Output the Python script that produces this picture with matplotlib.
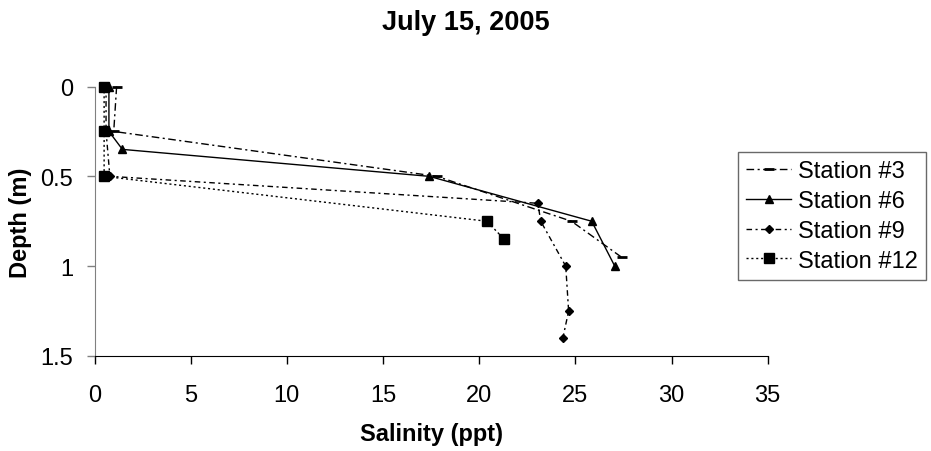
import matplotlib
matplotlib.use("Agg")
import matplotlib.pyplot as plt
from matplotlib.ticker import FixedLocator, FuncFormatter

plt.rcParams['font.family'] = ['Liberation Sans', 'DejaVu Sans']

# salinity (ppt) vs depth (m) per station
st3_sal = [1.15, 1.0, 17.8, 24.8, 27.4]
st3_depth = [0, 0.25, 0.5, 0.75, 0.95]

st6_sal = [0.75, 0.75, 1.45, 17.4, 25.85, 27.05]
st6_depth = [0, 0.25, 0.35, 0.5, 0.75, 1.0]

st9_sal = [0.6, 0.6, 0.8, 23.05, 23.2, 24.5, 24.65, 24.35]
st9_depth = [0, 0.25, 0.5, 0.65, 0.75, 1.0, 1.25, 1.4]

st12_sal = [0.5, 0.5, 0.5, 20.4, 21.3]
st12_depth = [0, 0.25, 0.5, 0.75, 0.85]

x_ticks = [0, 5, 10, 15, 20, 25, 30, 35]
y_ticks = [0, 0.5, 1, 1.5]

W, H = 931, 452
fig = plt.figure(figsize=(W / 100, H / 100), dpi=100, facecolor='white')
# plot area in pixels: x 94.5..767.7, y 87.5..357
ax = fig.add_axes([94.5 / W, 1 - 357 / H, (767.7 - 94.5) / W, (357 - 87.5) / H])

ax.plot(st3_sal, st3_depth, color='black', lw=1.0, dashes=(5.5, 2.5, 1.5, 2.5),
        marker='_', ms=6.5, mew=2, clip_on=False, label='Station #3')
ax.plot(st6_sal, st6_depth, color='black', lw=1.0, linestyle='-',
        marker='^', ms=6, clip_on=False, label='Station #6')
ax.plot(st9_sal, st9_depth, color='black', lw=1.0, dashes=(4, 2.5, 1.5, 2.5),
        marker='D', ms=4, clip_on=False, label='Station #9')
ax.plot(st12_sal, st12_depth, color='black', lw=1.0, dashes=(1.5, 2),
        marker='s', ms=7.5, clip_on=False, label='Station #12')

ax.set_xlim(0, 35)
ax.set_ylim(1.5, 0)
ax.xaxis.set_major_locator(FixedLocator(x_ticks))
ax.yaxis.set_major_locator(FixedLocator(y_ticks))
ax.yaxis.set_major_formatter(FuncFormatter(lambda v, p: '%g' % v))

ax.spines['top'].set_visible(False)
ax.spines['right'].set_visible(False)
ax.spines['left'].set_color('#808080')
ax.spines['bottom'].set_color('black')
ax.tick_params(axis='x', direction='out', length=6, width=1, colors='black',
               labelsize=17, pad=14.5)
ax.tick_params(axis='y', direction='out', length=6, width=1, color='#808080',
               labelcolor='black', labelsize=17, pad=9.5)

fig.text(0.5, 1 - 23 / H, 'July 15, 2005', ha='center', va='center',
         fontsize=19.5, fontweight='bold')
fig.text((94.5 + 767.7) / 2 / W, 1 - 435 / H, 'Salinity (ppt)', ha='center',
         va='center', fontsize=17, fontweight='bold')
fig.text(21 / W, 1 - 223 / H, 'Depth (m)', ha='center', va='center',
         rotation=90, fontsize=17, fontweight='bold')

leg = ax.legend(loc='upper left', bbox_to_anchor=(738 / W, 1 - 153 / H),
                bbox_transform=fig.transFigure, borderaxespad=0,
                fontsize=17, frameon=True, fancybox=False, shadow=False,
                handlelength=1.9, handletextpad=0.3, labelspacing=0.33,
                borderpad=0.35, numpoints=1)
leg.get_frame().set_edgecolor('#444444')
leg.get_frame().set_linewidth(1.0)

fig.savefig('out.png', dpi=100)
